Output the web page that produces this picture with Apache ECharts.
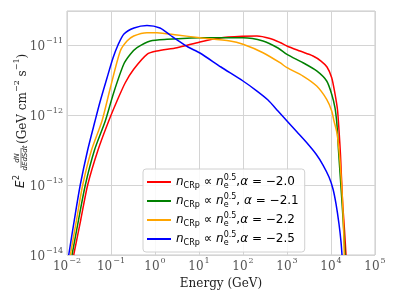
<!DOCTYPE html>
<html>
<head>
<meta charset="utf-8">
<script src="https://cdn.jsdelivr.net/npm/echarts@6/dist/echarts.min.js"></script>
<style>html,body{margin:0;padding:0;background:#fff}#c{width:397px;height:297px}</style>
</head>
<body>
<div id="c"></div>
<script>
// Energies (GeV) and fluxes E^2 dN/dEdSdt (GeV cm^-2 s^-1)
const seriesNames = ['α = −2.0', 'α = −2.1', 'α = −2.2', 'α = −2.5'];
const commaGap = ['', ' ', '', ''];
const seriesColors = ['#ff0000', '#008000', '#ffa500', '#0000ff'];

const redE = [1.419e-2, 2.05e-2, 2.95e-2, 5.07e-2, 8.87e-2, 1.368e-1, 2.11e-1, 3.28e-1, 6.58e-1, 1.11, 3.16, 10.5, 30.0, 100, 208, 411, 693, 1000, 1972, 3900, 5930, 8110, 10380, 12330, 14060, 15200, 16440, 18240, 20260, 21930];
const redF = [1e-14, 3.16e-14, 1e-13, 3.16e-13, 8.2e-13, 1.585e-12, 2.89e-12, 4.5e-12, 7.36e-12, 8.2e-12, 9.14e-12, 1.104e-11, 1.259e-11, 1.33e-11, 1.345e-11, 1.239e-11, 1.086e-11, 9.68e-12, 8.2e-12, 6.97e-12, 5.9e-12, 4.85e-12, 3.41e-12, 2.0e-12, 1.18e-12, 6.11e-13, 2.68e-13, 6.11e-14, 2.28e-14, 1e-14];

const greenE = [1.30e-2, 1.825e-2, 2.61e-2, 4.22e-2, 7.41e-2, 1.151e-1, 1.945e-1, 2.75e-1, 3.9e-1, 7.82e-1, 1.875, 10.5, 100, 285, 624, 1000, 2312, 4732, 7980, 10380, 12330, 13680, 14790, 16440, 18240, 19720, 20800];
const greenF = [1e-14, 3.16e-14, 1e-13, 3.16e-13, 8.2e-13, 2.08e-12, 5.3e-12, 7.36e-12, 9.14e-12, 1.14e-11, 1.205e-11, 1.27e-11, 1.27e-11, 1.14e-11, 9.06e-12, 7.36e-12, 5.58e-12, 4.26e-12, 3.06e-12, 1.98e-12, 1.26e-12, 7.2e-13, 3.16e-13, 1.18e-13, 4.4e-14, 1.93e-14, 1e-14];

const orangeE = [1.19e-2, 1.644e-2, 2.275e-2, 3.61e-2, 6.24e-2, 9.64e-2, 1.626e-1, 2.31e-1, 3.28e-1, 6.58e-1, 1.11, 3.16, 10.5, 50.7, 100, 285, 693, 1000, 2312, 4732, 7980, 10380, 11700, 13680, 15200, 16870, 18240, 19230, 20040];
const orangeF = [1e-14, 3.16e-14, 1e-13, 3.16e-13, 8.2e-13, 2.43e-12, 8.2e-12, 1.14e-11, 1.346e-11, 1.5e-11, 1.5e-11, 1.39e-11, 1.27e-11, 1.14e-11, 1.023e-11, 7.76e-12, 5.58e-12, 4.74e-12, 3.6e-12, 2.59e-12, 1.67e-12, 1.14e-12, 8.2e-13, 5.53e-13, 3.16e-13, 1.39e-13, 6.11e-14, 2.68e-14, 1e-14];

const blueE = [1.094e-2, 1.466e-2, 2.0e-2, 2.95e-2, 4.33e-2, 5.62e-2, 8.11e-2, 1.11e-1, 1.442e-1, 1.97e-1, 3.33e-1, 6.58e-1, 1.30, 2.19, 3.16, 5.62, 10.5, 31.6, 100, 208, 370, 624, 1000, 1690, 2850, 4560, 6580, 9010, 11100, 13000, 15200, 16900, 17800];
const blueF = [1e-14, 3.16e-14, 1e-13, 3.16e-13, 8.2e-13, 1.535e-12, 3.38e-12, 6.52e-12, 1e-11, 1.436e-11, 1.75e-11, 1.90e-11, 1.75e-11, 1.39e-11, 1.18e-11, 9.36e-12, 7.69e-12, 4.85e-12, 3.06e-12, 2.2e-12, 1.64e-12, 1.14e-12, 8.2e-13, 5.71e-13, 3.98e-13, 2.77e-13, 1.93e-13, 1.30e-13, 8.77e-14, 5.36e-14, 2.77e-14, 1.535e-14, 1e-14];

const xTicks = [1e-2, 1e-1, 1, 10, 100, 1e3, 1e4, 1e5];
const yTicks = [1e-14, 1e-13, 1e-12, 1e-11];

const allE = [redE, greenE, orangeE, blueE];
const allF = [redF, greenF, orangeF, blueF];

function zip(a, b) { return a.map((v, i) => [v, b[i]]); }
function powLabel(v) {
  const lg = Math.log10(v);
  const e = Math.round(lg);
  if (Math.abs(lg - e) > 0.01) return '';
  return '{b|10}{s|' + String(e).replace('-', '−') + '}';
}
const tickRich = {
  b: {fontFamily: 'DejaVu Serif', fontSize: 12, color: '#555', lineHeight: 16, verticalAlign: 'bottom'},
  s: {fontFamily: 'DejaVu Serif', fontSize: 8, color: '#555', lineHeight: 16, verticalAlign: 'top', padding: [0, 0, 0, 1]}
};

const chart = echarts.init(document.getElementById('c'), null, {renderer: 'canvas'});
const legendRich = {
  n: {fontFamily: 'DejaVu Sans', fontStyle: 'italic', fontSize: 12, color: '#000', lineHeight: 16, verticalAlign: 'middle'},
  t: {fontFamily: 'DejaVu Sans', fontSize: 12, color: '#000', lineHeight: 16, verticalAlign: 'middle'},
  sub: {fontFamily: 'DejaVu Sans', fontSize: 8, color: '#000', lineHeight: 16, verticalAlign: 'bottom'},
  sube: {fontFamily: 'DejaVu Sans', fontSize: 8, color: '#000', lineHeight: 16, verticalAlign: 'bottom', width: 0},
  sup: {fontFamily: 'DejaVu Sans', fontSize: 8, color: '#000', lineHeight: 16, verticalAlign: 'top'}
};

chart.setOption({
  animation: false,
  grid: {left: 67, right: 22, top: 11, bottom: 42, show: true, borderColor: '#c8c8c8', borderWidth: 1},
  xAxis: {
    type: 'log', logBase: 10, min: xTicks[0], max: xTicks[xTicks.length - 1],
    name: 'Energy (GeV)', nameLocation: 'middle', nameGap: 16,
    nameTextStyle: {fontFamily: 'DejaVu Serif', fontSize: 12, color: '#222'},
    axisLine: {show: false}, axisTick: {show: false}, minorTick: {show: false},
    axisLabel: {formatter: powLabel, rich: tickRich, margin: 2},
    splitLine: {show: true, lineStyle: {color: '#d4d4d4', width: 1}}
  },
  yAxis: {
    type: 'log', logBase: 10, min: yTicks[0], max: 3.06e-11,
    axisLine: {show: false}, axisTick: {show: false},
    axisLabel: {formatter: powLabel, rich: tickRich, margin: 4},
    splitLine: {show: true, lineStyle: {color: '#d4d4d4', width: 1}}
  },
  legend: {
    orient: 'vertical', left: 143, top: 169,
    padding: [5, 6, 5, 4], itemGap: 3,
    itemWidth: 24, itemHeight: 2, icon: 'rect',
    backgroundColor: 'rgba(255,255,255,0.85)', borderColor: '#d0d0d0', borderWidth: 1, borderRadius: 3,
    data: seriesNames,
    formatter: function (name) {
      const k = seriesNames.indexOf(name);
      const a = name.replace('α = ', '');
      return '{n|n}{sub|CRp}{t| ∝ }{n|n}{sube|e}{sup|0.5}{t|,' + commaGap[k] + '}{n|α}{t| = ' + a + '}';
    },
    textStyle: {rich: legendRich, fontSize: 12}
  },
  graphic: [{
    type: 'group', x: 21, y: 129, rotation: Math.PI / 2,
    children: [
      {type: 'text', x: -59, y: 0, style: {text: 'E', font: 'italic 12px "DejaVu Sans"', fill: '#222', verticalAlign: 'middle', align: 'left'}},
      {type: 'text', x: -51, y: -4, style: {text: '2', font: '8px "DejaVu Sans"', fill: '#222', verticalAlign: 'middle', align: 'left'}},
      {type: 'text', x: -29, y: -4, style: {text: 'dN', font: 'italic 7px "DejaVu Sans"', fill: '#222', verticalAlign: 'middle', align: 'center'}},
      {type: 'line', shape: {x1: -39, y1: 0, x2: -19, y2: 0}, style: {stroke: '#222', lineWidth: 0.6}},
      {type: 'text', x: -29, y: 4.5, style: {text: 'dEdSdt', font: 'italic 7px "DejaVu Sans"', fill: '#222', verticalAlign: 'middle', align: 'center'}},
      {type: 'text', x: -15, y: 0, style: {
        text: '{a|(GeV cm}{s|−2}{a| s}{s|−1}{a|)}', verticalAlign: 'middle', align: 'left',
        rich: {
          a: {fontFamily: 'DejaVu Serif', fontSize: 12, fill: '#222', lineHeight: 16, verticalAlign: 'bottom'},
          s: {fontFamily: 'DejaVu Serif', fontSize: 8, fill: '#222', lineHeight: 16, verticalAlign: 'top'}
        }
      }}
    ]
  }],
  series: seriesNames.map((nm, i) => ({
    name: nm, type: 'line', showSymbol: false, symbol: 'none',
    smooth: 0.25,
    data: zip(allE[i], allF[i]),
    lineStyle: {color: seriesColors[i], width: 1.5, join: 'round'},
    itemStyle: {color: seriesColors[i]},
    z: 2 + i
  }))
});
</script>
</body>
</html>
